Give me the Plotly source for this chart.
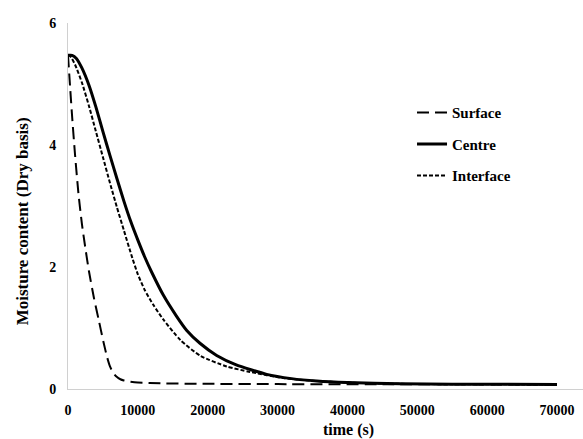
import plotly.graph_objects as go

# ---- data ----
surface_t = [0, 300, 600, 1000, 1500, 2000, 2500, 3000, 3700, 4400, 5060, 5600, 6010, 6500,
             6970, 7500, 8000, 8870, 10000, 13170, 20000, 30000, 45000, 70000]
surface_m = [5.47, 4.95, 4.45, 3.85, 3.20, 2.70, 2.30, 1.93, 1.50, 1.13, 0.78, 0.52, 0.37, 0.26,
             0.20, 0.16, 0.14, 0.12, 0.105, 0.093, 0.085, 0.080, 0.077, 0.075]

centre_t = [0, 600, 1200, 2000, 3000, 4000, 5000, 6000, 7000, 8000, 9000, 10000, 11000, 12000,
            13640, 15500, 17000, 18890, 21280, 24000, 28440, 32000, 35600, 40000, 47500, 55000, 70000]
centre_m = [5.47, 5.47, 5.42, 5.26, 4.98, 4.62, 4.22, 3.83, 3.45, 3.08, 2.74, 2.44, 2.16, 1.91,
            1.54, 1.20, 0.96, 0.75, 0.55, 0.40, 0.24, 0.17, 0.13, 0.105, 0.085, 0.078, 0.075]

interface_t = [0, 300, 1000, 2000, 3000, 4000, 5000, 6000, 7000, 8000, 9200, 10000, 11000, 12210,
               13640, 16100, 19000, 22720, 26050, 30820, 35000, 40000, 47500, 55000, 70000]
interface_m = [5.47, 5.46, 5.32, 5.02, 4.64, 4.22, 3.80, 3.38, 2.98, 2.60, 2.15, 1.88, 1.62, 1.38,
               1.14, 0.80, 0.54, 0.37, 0.28, 0.18, 0.135, 0.105, 0.085, 0.078, 0.075]

x_ticks = [0, 10000, 20000, 30000, 40000, 50000, 60000, 70000]
y_ticks = [0, 2, 4, 6]

FONT = "Liberation Serif, Times New Roman, serif"

fig = go.Figure()
fig.add_trace(go.Scatter(x=surface_t, y=surface_m, mode="lines", name="Surface",
                         line=dict(color="black", width=2, dash="12px,6px", shape="spline", smoothing=0.6),
                         legendgroup="a"))
fig.add_trace(go.Scatter(x=centre_t, y=centre_m, mode="lines", name="Centre",
                         line=dict(color="black", width=3, shape="spline", smoothing=0.6),
                         legendgroup="b"))
fig.add_trace(go.Scatter(x=interface_t, y=interface_m, mode="lines", name="Interface",
                         line=dict(color="black", width=2, dash="4px,2px", shape="spline", smoothing=0.6),
                         legendgroup="c"))

fig.update_layout(
    width=583, height=439,
    margin=dict(l=68, r=0, t=23, b=50),
    paper_bgcolor="white", plot_bgcolor="white",
    font=dict(family=FONT, color="black"),
    showlegend=True,
    legend=dict(x=0.668, y=0.80, xanchor="left", yanchor="top",
                font=dict(family=FONT, size=15, color="black", weight="bold"),
                bgcolor="rgba(0,0,0,0)", tracegroupgap=9, traceorder="grouped"),
    xaxis=dict(range=[0, 73720], tickvals=x_ticks, ticktext=[str(v) for v in x_ticks],
               showgrid=False, zeroline=False, showline=True, linecolor="#d0d0d0", linewidth=1,
               ticks="", ticklabelstandoff=8,
               tickfont=dict(family=FONT, size=14, color="black", weight="bold")),
    yaxis=dict(range=[0, 6], tickvals=y_ticks, ticktext=[str(v) for v in y_ticks],
               showgrid=False, zeroline=False, showline=True, linecolor="#d0d0d0", linewidth=1,
               ticks="", ticklabelstandoff=8,
               tickfont=dict(family=FONT, size=14, color="black", weight="bold")),
    annotations=[
        dict(text="time (s)", xref="paper", yref="paper", x=(348 - 68) / 515, y=0,
             xanchor="center", yanchor="middle", yshift=-41, showarrow=False,
             font=dict(family=FONT, size=16, color="black", weight="bold")),
        dict(text="Moisture content (Dry basis)", xref="paper", yref="paper",
             x=(22 - 68) / 515, y=0.458, xanchor="center", yanchor="middle", textangle=-90,
             showarrow=False, font=dict(family=FONT, size=17, color="black", weight="bold")),
    ],
)

fig.write_html("out.html", config={"displayModeBar": False},
               post_script="document.body.style.margin='0';document.body.style.overflow='hidden';")
